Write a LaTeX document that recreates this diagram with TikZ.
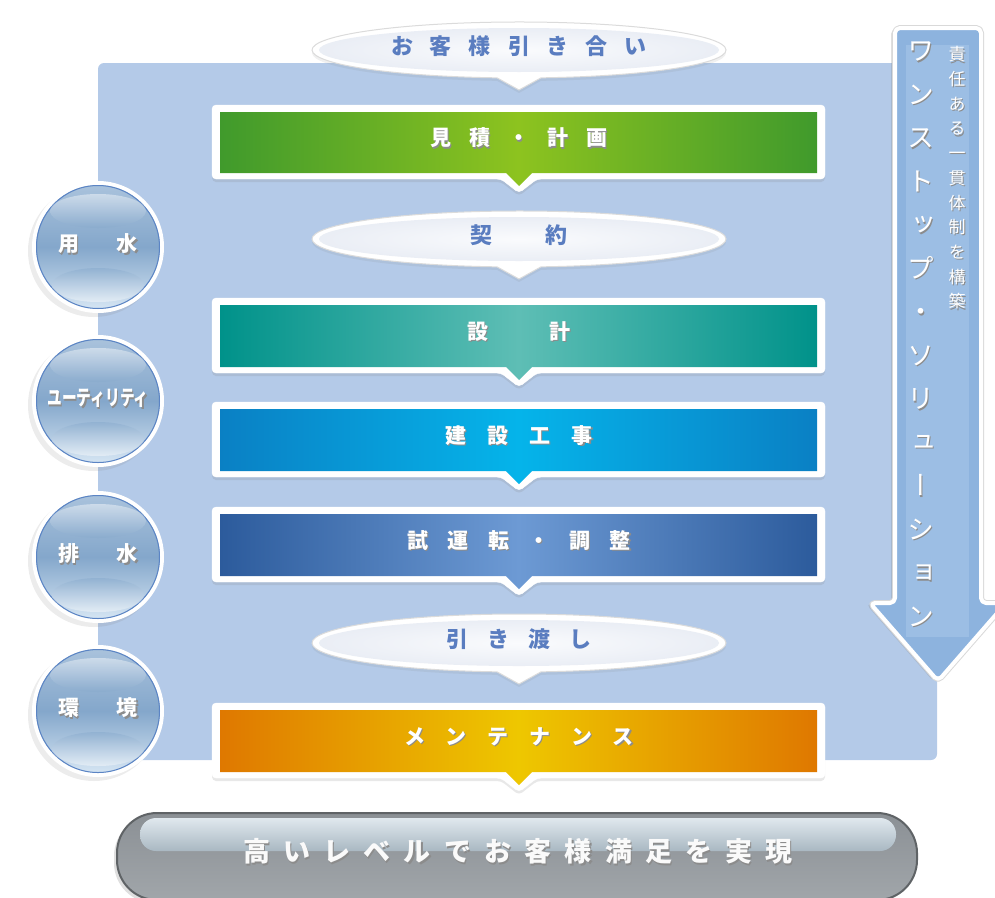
\documentclass[tikz,border=0pt]{standalone}
\usepackage{fontspec}
\usetikzlibrary{shadows}
\newfontfamily\jp{Noto Sans CJK JP}
\newfontfamily\jpv{Noto Sans CJK JP}[RawFeature=+vert]
\definecolor{panelblue}{HTML}{B4CAE8}
\definecolor{arrowblue}{HTML}{8DB3DE}
\definecolor{bandblue}{HTML}{9CBEE4}
\definecolor{bubtext}{HTML}{5A7DC0}
\definecolor{bubcenter}{HTML}{FAFBFD}
\definecolor{bubmid}{HTML}{E8ECF4}
\definecolor{bubedge}{HTML}{BCC5DC}
\definecolor{grEdge}{HTML}{409A2C}
\definecolor{grMid}{HTML}{8DC31F}
\definecolor{tlEdge}{HTML}{00928A}
\definecolor{tlMid}{HTML}{5EBEB5}
\definecolor{blEdge}{HTML}{0A80C4}
\definecolor{blMid}{HTML}{05B4EA}
\definecolor{dbEdge}{HTML}{2C5B9C}
\definecolor{dbMid}{HTML}{6D9AD4}
\definecolor{orEdge}{HTML}{DF7800}
\definecolor{orMid}{HTML}{EEC700}
\definecolor{circTop}{HTML}{A9C2DC}
\definecolor{circMid}{HTML}{84A7CB}
\definecolor{circBot}{HTML}{D5E5F3}
\definecolor{circRing}{HTML}{5B84C4}
\definecolor{pillTop}{HTML}{8B9095}
\definecolor{pillBot}{HTML}{A1A6AA}
\definecolor{pillLine}{HTML}{5F6366}
\definecolor{hlTop}{HTML}{E0E8EE}
\definecolor{hlBot}{HTML}{A9B8C2}
\pgfdeclareradialshading{bubshade}{\pgfpoint{0bp}{0bp}}{color(0bp)=(bubcenter); color(28bp)=(bubmid); color(50bp)=(bubedge)}
\newlength\lspitch
\newcommand\lsp[2]{\setlength\lspitch{#1}\lsploop#2\relax}
\def\lsploop#1{\ifx\relax#1\else\makebox[\lspitch]{#1}\expandafter\lsploop\fi}
\newcommand\shd[1]{\rlap{\hspace{1.2pt}\raisebox{-1.2pt}{\textcolor{black!45}{#1}}}#1}
\tikzset{
  boxtxt/.style={font={\jp\bfseries\fontsize{21}{24}\selectfont}, text=white, inner sep=0pt, text height=0.88em, text depth=0.12em},
  bubtxt/.style={font={\jp\bfseries\fontsize{22}{24}\selectfont}, text=bubtext, inner sep=0pt, text height=0.88em, text depth=0.12em},
  circtxt/.style={font={\jp\bfseries\fontsize{21}{24}\selectfont}, text=white, inner sep=0pt, text height=0.88em, text depth=0.12em},
  vbig/.style={font={\jpv\fontsize{27}{27}\selectfont}, text=white, inner sep=0pt, text height=0.88em, text depth=0.12em},
  vsmall/.style={font={\jpv\fontsize{17}{17}\selectfont}, text=white, inner sep=0pt, text height=0.88em, text depth=0.12em},
  pilltxt/.style={font={\jp\bfseries\fontsize{27}{30}\selectfont}, text=white!96!gray, inner sep=0pt, text height=0.88em, text depth=0.12em},
  boxshadow/.style={drop shadow={opacity=0.18, shadow xshift=0pt, shadow yshift=-3pt}},
}
\newcommand\flowbox[7]{%
  \filldraw[white, rounded corners=4pt, boxshadow] (212,#2) -- (825,#2) -- (825,#3) -- (537,#3) -- (519,{#3+14}) -- (501,#3) -- (212,#3) -- cycle;
  \shade[left color=#4, right color=#4, middle color=#5] (220,{#2+7}) -- (817,{#2+7}) -- (817,{#3-6}) -- (532,{#3-6}) -- (519,{#3+7}) -- (506,{#3-6}) -- (220,{#3-6}) -- cycle;
  \node[boxtxt] (#1) at (519,{(#2+#3)/2}) {\shd{\lsp{#7}{#6}}};
}
\newcommand\bubble[5]{%
  \pgfmathsetmacro\bby{#2+0.994*#3}
  \pgfmathsetmacro\bbt{#2+#3+12}
  \pgfmathsetmacro\bry{#3-6}
  \filldraw[fill=white, draw=black!14, line width=1pt, drop shadow={opacity=0.12, shadow xshift=0pt, shadow yshift=-3pt}] (541,\bby) arc[start angle=83.9, end angle=-263.9, x radius=207, y radius=#3] -- (519,\bbt) -- cycle;
  \shade[shading=bubshade] (519,#2) ellipse [x radius=200, y radius=\bry];
  \node[bubtxt] (#1) at (519,{#2+1}) {\lsp{#5}{#4}};
}
\begin{document}
\begin{tikzpicture}[x=1pt,y=-1pt]
\useasboundingbox (0,0) rectangle (995,897);
\clip (0,0) rectangle (995,897);
% panel
\fill[panelblue, rounded corners=6pt] (98,63) rectangle (937,760);
% one-stop arrow
\filldraw[draw=black!15, line width=6pt, line join=round, rounded corners=5pt, drop shadow={opacity=0.25, shadow xshift=-4pt, shadow yshift=-1pt}]
  (895,28) -- (981,28) -- (981,603) -- (1006,603) -- (938,681) -- (870,603) -- (895,603) -- cycle;
\filldraw[fill=arrowblue, draw=white, line width=4pt, line join=round, rounded corners=5pt]
  (895,28) -- (981,28) -- (981,603) -- (1006,603) -- (938,681) -- (870,603) -- (895,603) -- cycle;
\fill[bandblue] (906,45) rectangle (969,637);
\foreach \ch [count=\i] in {ワ,ン,ス,ト,ッ,プ,・,ソ,リ,ュ,ー,シ,ョ,ン}
  \node[vbig] (vb\i) at (921,{57+43.5*(\i-1)}) {\shd{\ch}};
\foreach \ch [count=\i] in {責,任,あ,る,一,貫,体,制,を,構,築}
  \node[vsmall] (vs\i) at (957,{57+24.7*(\i-1)}) {\shd{\ch}};
% bubbles
\bubble{q1}{50}{28}{お客様引き合い}{39pt}
\bubble{q2}{239}{28}{契約}{75pt}
\bubble{q3}{643}{29}{引き渡し}{41pt}
% steps
\flowbox{b1}{105}{179}{grEdge}{grMid}{見積・計画}{39pt}
\flowbox{b2}{298}{373}{tlEdge}{tlMid}{設計}{82pt}
\flowbox{b3}{402}{477}{blEdge}{blMid}{建設工事}{42.3pt}
\flowbox{b4}{507}{582}{dbEdge}{dbMid}{試運転・調整}{40.6pt}
\flowbox{b5}{703}{778}{orEdge}{orMid}{メンテナンス}{41.8pt}
% circles
\foreach \cy in {247,401,557,711} {
  \fill[white, drop shadow={opacity=0.15, shadow xshift=-4pt, shadow yshift=-4pt}] (98,\cy) circle[radius=66];
  \shade[top color=circTop, bottom color=circBot, middle color=circMid] (98,\cy) circle[radius=62];
  \draw[circRing, line width=1pt] (98,\cy) circle[radius=61.5];
  \shade[top color=white, bottom color=circMid, opacity=0.45] (98,{\cy-36}) ellipse[x radius=48, y radius=17];
  \shade[top color=circMid, bottom color=white, opacity=0.45] (98,{\cy+38}) ellipse[x radius=46, y radius=17];
}
\node[circtxt] (c1) at (98,248) {\shd{\lsp{59pt}{用水}}};
\node[circtxt] (c2) at (98,402) {\shd{\scalebox{0.7}[1]{ユーティリティ}}};
\node[circtxt] (c3) at (98,558) {\shd{\lsp{59pt}{排水}}};
\node[circtxt] (c4) at (98,712) {\shd{\lsp{59pt}{環境}}};
% goal pill
\path[draw=pillLine, line width=2pt, top color=pillTop, bottom color=pillBot, rounded corners=40pt, drop shadow={opacity=0.25, shadow xshift=-3pt, shadow yshift=-3pt}] (117,813) rectangle (917,900);
\shade[top color=hlTop, bottom color=hlBot, rounded corners=16pt] (140,818) rectangle (896,851);
\node[pilltxt] (goal) at (518,858) {\shd{\lsp{40.2pt}{高いレベルでお客様満足を実現}}};
\end{tikzpicture}
\end{document}
